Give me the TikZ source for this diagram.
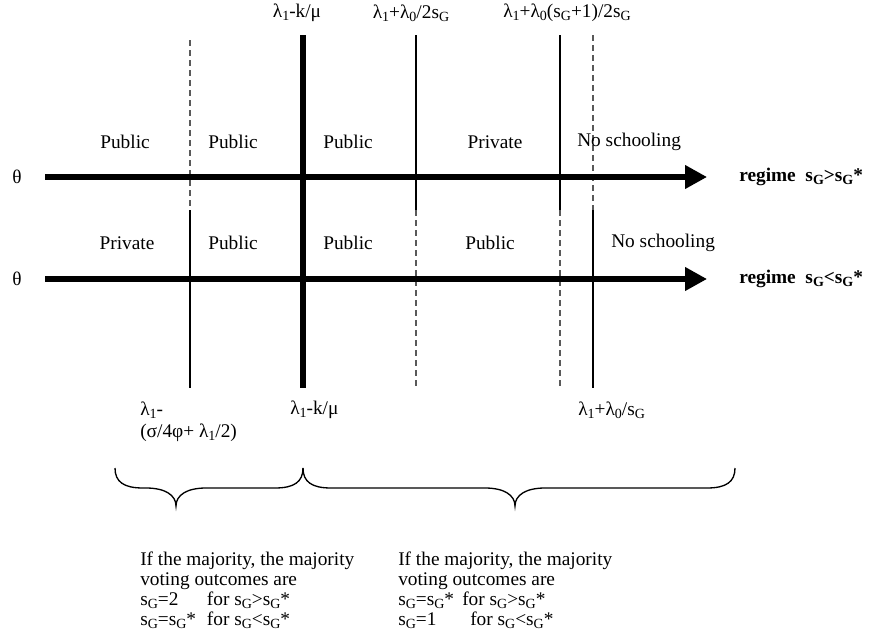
\documentclass[tikz,border=0pt]{standalone}
\usepackage{fontspec}
\setmainfont{Liberation Serif}
\usetikzlibrary{arrows.meta}
\pgfdeclarelayer{bg}
\pgfsetlayers{bg,main}
\newcommand{\sub}[1]{\raisebox{-0.3ex}{\fontsize{10.5}{10.5}\selectfont #1}}
\newcommand{\sG}{s\sub{G}}
\tikzset{
    every node/.style={inner sep=0pt, font=\fontsize{14.5}{15}\selectfont}
}
\tikzset{
    axis/.style={line width=3.8pt, -{Triangle[length=16.5pt,width=17pt]}},
    cut/.style={line width=1.7pt},
    bigcut/.style={line width=4.5pt},
    weak/.style={line width=0.8pt, black!65, dash pattern=on 4.5pt off 3pt},
    brc/.style={line width=1pt}
}
% word style curly brace: left x, tip x, right x, top y
\newcommand{\wordbrace}[4]{%
    \draw[brc] (#1,#4) .. controls (#1,#4+14) and (#1+9,#4+20) .. (#1+28,#4+20)
        -- (#2-30,#4+20) .. controls (#2-11,#4+20) and (#2,#4+27) .. (#2,#4+38)
        .. controls (#2,#4+27) and (#2+11,#4+20) .. (#2+30,#4+20)
        -- (#3-28,#4+20) .. controls (#3-9,#4+20) and (#3,#4+14) .. (#3,#4);}

\begin{document}
\begin{tikzpicture}[x=0.75pt,y=-0.75pt]
        \useasboundingbox (0,0) rectangle (875,639);
        % thresholds on top
        \node (t1) at (297,13) {λ\sub{1}-k/μ};
        \node (t2) at (411,13) {λ\sub{1}+λ\sub{0}/2\sG};
        \node (t3) at (567,13) {λ\sub{1}+λ\sub{0}(\sG+1)/2\sG};
        % regime s_G > s_G*
        \node (p1) at (125,142) {Public};
        \node (p2) at (233,142) {Public};
        \node (p3) at (348,142) {Public};
        \node (p4) at (495,142) {Private};
        \node (p5) [anchor=west] at (577,142) {No schooling};
        \node (th1) at (17,177) {θ};
        \coordinate (a1) at (45,177);
        \coordinate (b1) at (707,177);
        \node (r1) [anchor=west, font=\fontsize{14.5}{15}\selectfont\bfseries] at (739,177) {regime\ \ \sG>\sG*};
        % regime s_G < s_G*
        \node (q1) at (127,243) {Private};
        \node (q2) at (233,243) {Public};
        \node (q3) at (348,243) {Public};
        \node (q4) at (490,243) {Public};
        \node (q5) [anchor=west] at (611,243) {No schooling};
        \node (th2) at (17,279) {θ};
        \coordinate (a2) at (45,279);
        \coordinate (b2) at (707,279);
        \node (r2) [anchor=west, font=\fontsize{14.5}{15}\selectfont\bfseries] at (739,279) {regime\ \ \sG<\sG*};
        % thresholds below
        \node (u1) [anchor=west] at (140,410) {λ\sub{1}-};
        \node (u2) [anchor=west] at (140,433) {(σ/4φ+ λ\sub{1}/2)};
        \node (u3) [anchor=west] at (290,410) {λ\sub{1}-k/μ};
        \node (u4) [anchor=west] at (578,410) {λ\sub{1}+λ\sub{0}/\sG};
        % cut points
        \coordinate (c1t) at (190,40);  \coordinate (c1m) at (190,210); \coordinate (c1b) at (190,388);
        \coordinate (c2t) at (303,35);  \coordinate (c2b) at (303,388);
        \coordinate (c3t) at (416,35);  \coordinate (c3m) at (416,210); \coordinate (c3b) at (416,388);
        \coordinate (c4t) at (560,35);  \coordinate (c4m) at (560,210); \coordinate (c4b) at (560,388);
        \coordinate (c5t) at (593,35);  \coordinate (c5m) at (593,210); \coordinate (c5b) at (593,388);
        \begin{pgfonlayer}{bg}
                \draw[weak] (c1t) -- (c1m);
                \draw[cut] (c1m) -- (c1b);
                \draw[bigcut] (c2t) -- (c2b);
                \draw[cut] (c3t) -- (c3m);
                \draw[weak] (c3m) -- (c3b);
                \draw[cut] (c4t) -- (c4m);
                \draw[weak] (c4m) -- (c4b);
                \draw[weak] (c5t) -- (c5m);
                \draw[cut] (c5m) -- (c5b);
        \end{pgfonlayer}
        \draw[axis] (a1) -- (b1);
        \draw[axis] (a2) -- (b2);
        % braces and voting outcomes
        \wordbrace{115}{176}{303}{468}
        \wordbrace{303}{515}{735}{468}
        \node (v1) [anchor=north west, align=left] at (140,552) {If the majority, the majority\\voting outcomes are\\
                \makebox[50pt][l]{\sG=2}for \sG>\sG*\\\makebox[50pt][l]{\sG=\sG*}for \sG<\sG*};
        \node (v2) [anchor=north west, align=left] at (398,552) {If the majority, the majority\\voting outcomes are\\
                \makebox[48pt][l]{\sG=\sG*}for \sG>\sG*\\\makebox[54pt][l]{\sG=1}for \sG<\sG*};
\end{tikzpicture}
\end{document}
